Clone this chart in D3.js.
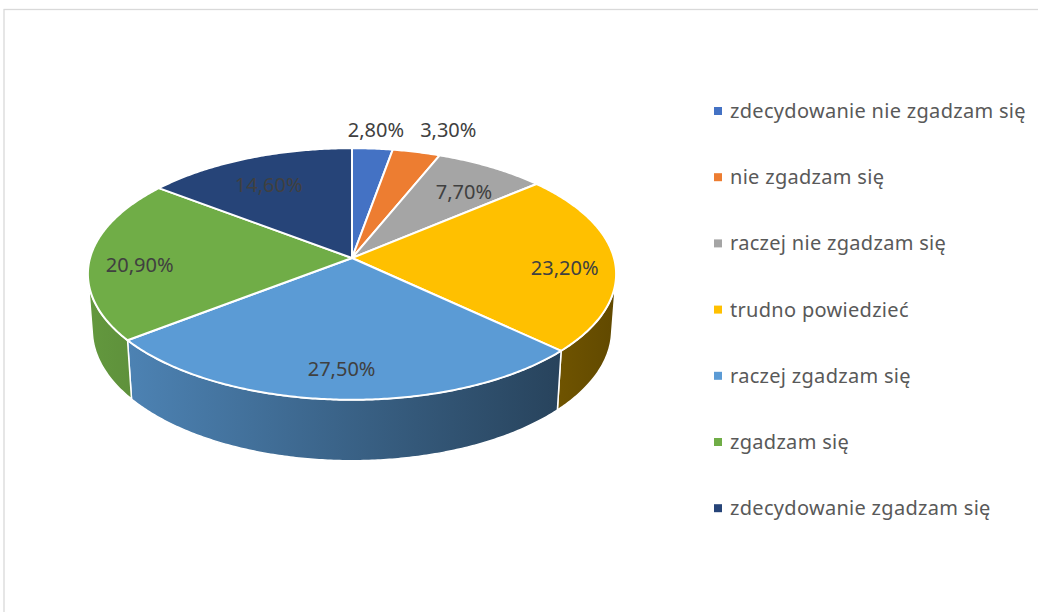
<!DOCTYPE html>
<html>
<head>
<meta charset="utf-8">
<script src="https://cdn.jsdelivr.net/npm/d3@7"></script>
<style>
  body { margin: 0; background: #fff; }
  svg { display: block; font-family: "Noto Sans", "Open Sans", sans-serif; }
</style>
</head>
<body>
<svg id="chart" width="1038" height="612"></svg>
<script>
// data
const categories = [
  'zdecydowanie nie zgadzam się',
  'nie zgadzam się',
  'raczej nie zgadzam się',
  'trudno powiedzieć',
  'raczej zgadzam się',
  'zgadzam się',
  'zdecydowanie zgadzam się'
]
const values = [2.8, 3.3, 7.7, 23.2, 27.5, 20.9, 14.6]
const colors = ['#4472C4', '#ED7D31', '#A5A5A5', '#FFC000', '#5B9BD5', '#70AD47', '#264478']

const svg = d3.select('#chart')

// chart frame
svg.append('rect')
  .attr('x', 4).attr('y', 9.5).attr('width', 1200).attr('height', 800)
  .attr('fill', 'none').attr('stroke', '#d9d9d9').attr('stroke-width', 1.3)

// perspective projection of a unit disc, tilted by alpha
const cx = 352, cy = 258
const alpha = 28.2 * Math.PI / 180
const D = 6.94, f = 1818, h = 0.245
function proj(phi, r, y) {
  const X = r * Math.sin(phi)
  const Z = -r * Math.cos(phi)
  const u = y * Math.cos(alpha) - Z * Math.sin(alpha)
  const w = y * Math.sin(alpha) + Z * Math.cos(alpha)
  const s = f / (D - w)
  return [cx + X * s, cy - u * s]
}

const pie = d3.pie().sort(null).value(d => d.value)
const data = pie(categories.map((c, i) => ({ name: c, value: values[i], color: colors[i] })))

// visible part of the side wall
const c0 = 1 / (D * Math.cos(alpha))
const visA = Math.acos(-c0), visB = 2 * Math.PI - visA
const xLeft = proj(visB, 1, 0)[0], xRight = proj(visA, 1, 0)[0]

function arcPts(a, b, r, y) {
  const n = Math.max(2, Math.ceil((b - a) / 0.01))
  return d3.range(n + 1).map(i => proj(a + (b - a) * i / n, r, y))
}

const defs = svg.append('defs')
data.forEach((d, i) => {
  const g = defs.append('linearGradient').attr('id', 'side' + i)
    .attr('gradientUnits', 'userSpaceOnUse')
    .attr('x1', xLeft).attr('x2', xRight).attr('y1', 0).attr('y2', 0)
  const c = d3.rgb(d.data.color)
  const shade = k => d3.rgb(c.r * k, c.g * k, c.b * k)
  g.append('stop').attr('offset', 0).attr('stop-color', shade(0.88))
  g.append('stop').attr('offset', 1).attr('stop-color', shade(0.38))
})

const line = d3.line()
const slices = svg.append('g')

// side walls
slices.selectAll('.side').data(data.filter(d => d.endAngle > visA && d.startAngle < visB))
  .enter().append('path').attr('class', 'side')
  .attr('fill', d => 'url(#side' + d.index + ')')
  .attr('stroke', '#fff').attr('stroke-width', 1.5).attr('stroke-linejoin', 'round')
  .attr('d', d => {
    const a = Math.max(d.startAngle, visA), b = Math.min(d.endAngle, visB)
    const pts = arcPts(a, b, 1, 0).concat(arcPts(a, b, 1, -h).reverse())
    return line(pts) + 'Z'
  })

// top faces
slices.selectAll('.top').data(data).enter().append('path').attr('class', 'top')
  .attr('fill', d => d.data.color)
  .attr('stroke', '#fff').attr('stroke-width', 2).attr('stroke-linejoin', 'round')
  .attr('d', d => line([[cx, cy]].concat(arcPts(d.startAngle, d.endAngle, 1, 0))) + 'Z')

// data labels
const fmt = v => v.toFixed(2).replace('.', ',') + '%'
const labels = svg.append('g').attr('font-size', 20).attr('fill', '#404040').attr('text-anchor', 'middle')
let prevOut = null
data.forEach(d => {
  const mid = (d.startAngle + d.endAngle) / 2
  const outside = d.value < 5
  const r = outside ? 1.2 : 0.76 + 0.05 * Math.abs(Math.sin(mid))
  const p = proj(mid, r, 0)
  const t = labels.append('text').text(fmt(d.value))
  const wdt = t.node().getComputedTextLength()
  let x = p[0], y = p[1] + 7 + (outside ? 0 : 7)
  if (outside) {
    if (prevOut && x - prevOut.x < (wdt + prevOut.w) / 2 + 16) x = prevOut.x + (wdt + prevOut.w) / 2 + 16
    if (prevOut) y = prevOut.y
    prevOut = { x: x, y: y, w: wdt }
  }
  t.attr('x', x).attr('y', y)
})

// legend
const legend = svg.append('g').attr('transform', 'translate(714,111)')
const item = legend.selectAll('g').data(categories).enter().append('g')
  .attr('transform', (d, i) => 'translate(0,' + i * 66.2 + ')')
item.append('rect').attr('x', 0).attr('y', -4).attr('width', 8).attr('height', 8)
  .attr('fill', (d, i) => colors[i])
item.append('text').attr('x', 16).attr('y', 7).attr('font-size', 20).attr('letter-spacing', 0.3)
  .attr('fill', '#595959')
  .text(d => d)
</script>
</body>
</html>
